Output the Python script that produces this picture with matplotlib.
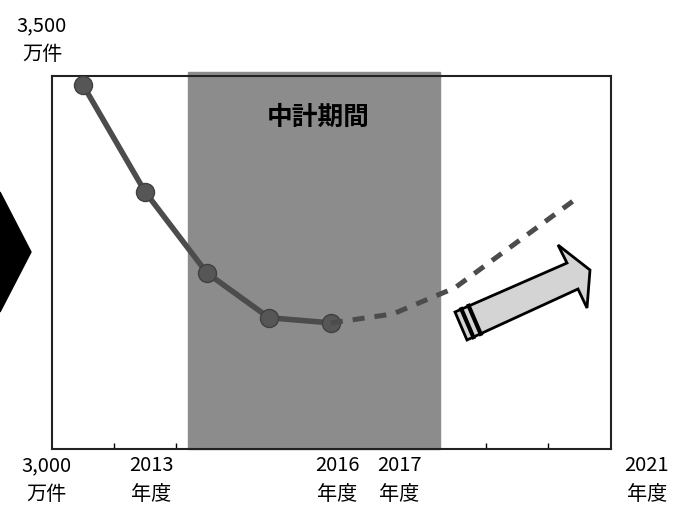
import matplotlib.pyplot as plt
from matplotlib.patches import Polygon
from matplotlib.transforms import blended_transform_factory

plt.rcParams['font.family'] = ['Noto Sans CJK JP', 'DejaVu Sans']

# actual results (万件)
years_actual = [2012, 2013, 2014, 2015, 2016]
values_actual = [3488, 3345, 3236, 3176, 3169]

# outlook (dashed)
years_outlook = [2016, 2017, 2018, 2019, 2020]
values_outlook = [3169, 3181, 3216, 3277, 3338]

# mid-term plan period band
plan_start, plan_end = 2013.69, 2017.76
plan_label = '中計期間'

tick_years = [2013, 2016, 2017, 2021]
tick_labels = ['2013\n年度', '2016\n年度', '2017\n年度', '2021\n年度']

W, H = 679, 508
fig = plt.figure(figsize=(W / 100, H / 100), dpi=100)
ax = fig.add_axes([52 / W, 1 - 449 / H, (611 - 52) / W, (449 - 76) / H])


def px(x, y):
    # figure pixel (top-left origin) -> figure fraction
    return (x / W, 1 - y / H)


ax.set_xlim(2011.5, 2020.52)
ax.set_ylim(3000, 3500)

ax.axvspan(plan_start, plan_end, ymin=0, ymax=1.01, color='#8c8c8c', zorder=0, clip_on=False)
ax.text(2015.79, 3445, plan_label, ha='center', va='center', fontsize=18.5,
        fontweight='bold', color='black')

ax.plot(years_actual, values_actual, color='#4c4c4c', lw=4, marker='o', ms=13,
        mfc='#565656', mec='#404040', zorder=3)
ax.plot(years_outlook, values_outlook, color='#4c4c4c', lw=3.6, ls=(0, (2.4, 2.0)),
        zorder=3)

for s in ax.spines.values():
    s.set_linewidth(1.5)
    s.set_color('#222222')
ax.set_xticks([])
ax.set_yticks([])
ax.set_xticks([2012.5, 2013.5, 2018.5, 2019.5], minor=True)
ax.tick_params(axis='x', which='minor', direction='in', length=4, width=1)

# x labels below the frame
trans = blended_transform_factory(ax.transData, fig.transFigure)
for yr, lab in zip(tick_years, tick_labels):
    ax.text(yr + 0.1, px(0, 480)[1], lab, transform=trans, ha='center', va='center',
            fontsize=14.5, linespacing=1.45, clip_on=False)

# y-axis labels
fig.text(*px(46, 480), '3,000\n万件', ha='center', va='center', fontsize=14.5, linespacing=1.45)
fig.text(*px(42, 40), '3,500\n万件', ha='center', va='center', fontsize=14.5, linespacing=1.45)

# black chevron cut off at the left edge
fig.patches.append(Polygon([px(0, 192), px(31, 252), px(0, 312)], closed=True,
                           transform=fig.transFigure, facecolor='black', edgecolor='black'))

# big outlook arrow
arrow = [px(455, 312), px(567, 263), px(558, 245), px(590, 270), px(587, 308),
         px(578, 289), px(467, 340)]
fig.patches.append(Polygon(arrow, closed=True, transform=fig.transFigure,
                           facecolor='#d4d4d4', edgecolor='black', lw=2, zorder=5))
for off in [7, 15]:
    dx, dy = off * 0.91, -off * 0.41
    fig.lines.append(plt.Line2D([px(455 + dx, 312 + dy)[0], px(467 + dx, 340 + dy)[0]],
                                [px(455 + dx, 312 + dy)[1], px(467 + dx, 340 + dy)[1]],
                                transform=fig.transFigure, color='black', lw=3, zorder=6))

fig.savefig('out.png', dpi=100)
